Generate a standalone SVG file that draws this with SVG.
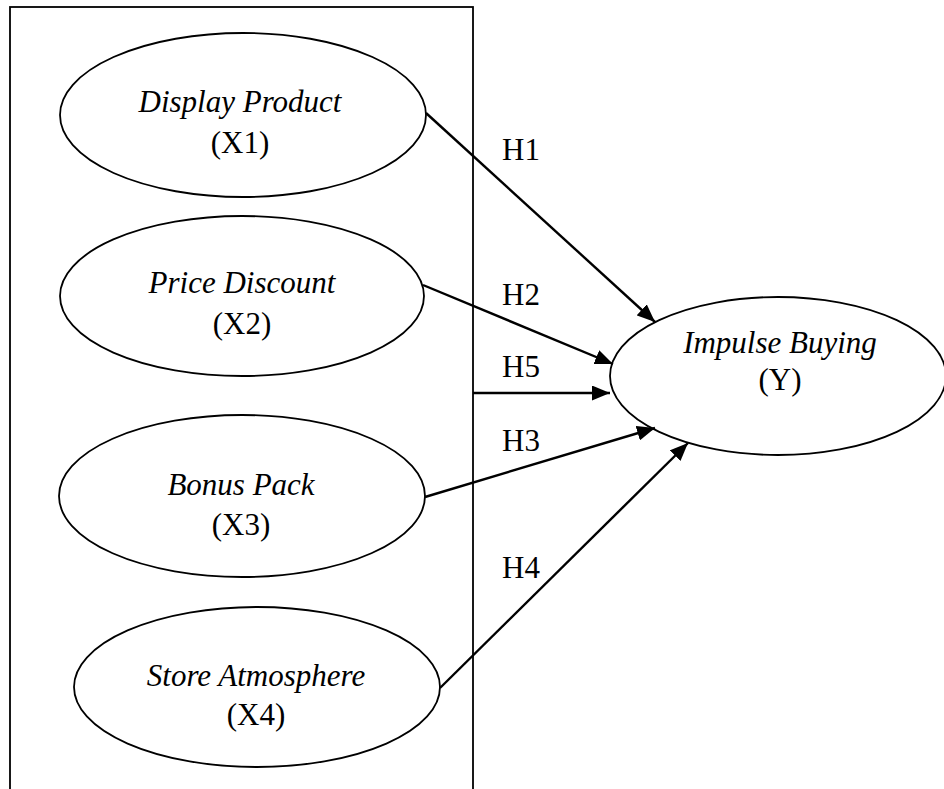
<svg xmlns="http://www.w3.org/2000/svg" width="944" height="789" viewBox="0 0 944 789">
  <style>
    .node { fill: #ffffff; stroke: #000000; stroke-width: 1.8; }
    .frame { fill: none; stroke: #000000; stroke-width: 1.8; }
    .edge { fill: none; stroke: #000000; stroke-width: 2.4; marker-end: url(#arrow); }
    .name { font-family: "Liberation Serif", "Times New Roman", serif; font-style: italic; font-size: 31px; fill: #000000; text-anchor: middle; }
    .code { font-family: "Liberation Serif", "Times New Roman", serif; font-size: 31px; fill: #000000; text-anchor: middle; }
    .label { font-family: "Liberation Serif", "Times New Roman", serif; font-size: 31px; fill: #000000; }
  </style>
  <defs>
    <marker id="arrow" markerUnits="userSpaceOnUse" markerWidth="19" markerHeight="15" refX="18" refY="7.5" orient="auto">
      <path d="M0,0 L18,7.5 L0,15 Z" fill="#000000"/>
    </marker>
  </defs>

  <rect width="944" height="789" fill="#ffffff"/>

  <!-- frame around the independent variables -->
  <rect id="variables-frame" class="frame" x="10" y="7" width="463" height="800"/>

  <g id="display-product">
    <ellipse class="node" cx="243" cy="115" rx="183" ry="82"/>
    <text class="name" x="240" y="112">Display Product</text>
    <text class="code" x="240" y="153">(X1)</text>
  </g>

  <g id="price-discount">
    <ellipse class="node" cx="242" cy="296" rx="182" ry="80"/>
    <text class="name" x="242" y="293">Price Discount</text>
    <text class="code" x="242" y="334">(X2)</text>
  </g>

  <g id="bonus-pack">
    <ellipse class="node" cx="242" cy="496" rx="183" ry="81"/>
    <text class="name" x="241" y="495">Bonus Pack</text>
    <text class="code" x="241" y="535">(X3)</text>
  </g>

  <g id="store-atmosphere">
    <ellipse class="node" cx="257" cy="687" rx="183" ry="80"/>
    <text class="name" x="256" y="686">Store Atmosphere</text>
    <text class="code" x="256" y="725">(X4)</text>
  </g>

  <g id="impulse-buying">
    <ellipse class="node" cx="778" cy="376" rx="168" ry="79"/>
    <text class="name" x="780" y="353">Impulse Buying</text>
    <text class="code" x="780" y="390">(Y)</text>
  </g>

  <g id="connectors">
    <line class="edge" x1="426" y1="113" x2="655" y2="322"/>
    <line class="edge" x1="423" y1="285" x2="613" y2="364"/>
    <line class="edge" x1="473" y1="393" x2="610" y2="393"/>
    <line class="edge" x1="425" y1="497" x2="655" y2="428"/>
    <line class="edge" x1="440" y1="688" x2="688" y2="443"/>
  </g>

  <g id="connector-labels">
    <text class="label" x="502" y="160">H1</text>
    <text class="label" x="502" y="305">H2</text>
    <text class="label" x="502" y="377">H5</text>
    <text class="label" x="502" y="451">H3</text>
    <text class="label" x="502" y="578">H4</text>
  </g>
</svg>
